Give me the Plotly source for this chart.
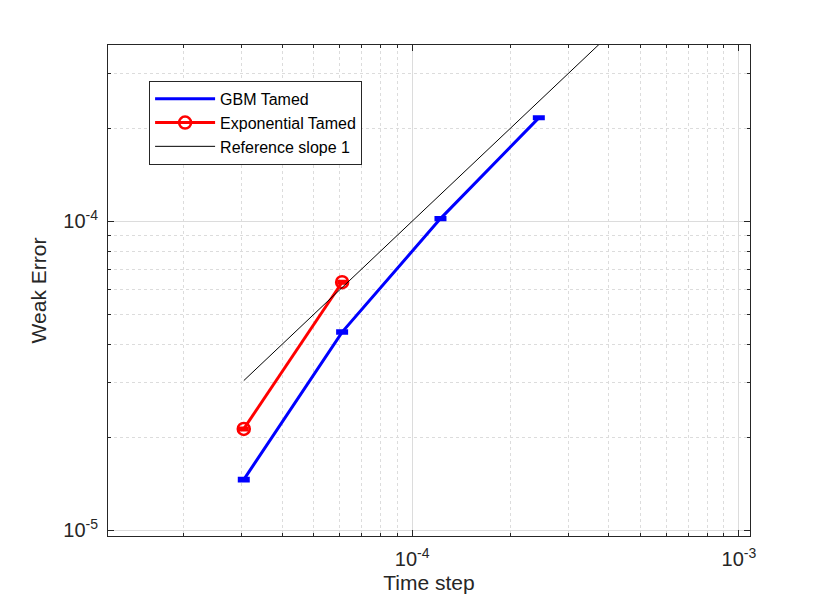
import plotly.graph_objects as go

# time steps 2^-15 .. 2^-12
dt = [3.0518e-5, 6.1035e-5, 1.2207e-4, 2.4414e-4]

gbm_err = [1.46e-5, 4.38e-5, 1.02e-4, 2.16e-4]
gbm_ci = [1.5e-7, 4.0e-7, 8.0e-7, 1.6e-6]

exp_dt = [3.0518e-5, 6.1035e-5]
exp_err = [2.13e-5, 6.35e-5]
exp_ci = [2.0e-7, 6.0e-7]

ref_dt = [3.0518e-5, 6.1035e-5, 1.2207e-4, 2.4414e-4, 4.8828e-4]

axis_col = '#262626'
grid_col = '#dcdcdc'
font = 'Liberation Sans, Arial, sans-serif'

# minor ticks at 2..9 of each decade
minor_vals = [m * 10.0 ** e for e in range(-6, -2) for m in range(2, 10)]

fig = go.Figure()
fig.add_trace(go.Scatter(
    x=dt, y=gbm_err, mode='lines', name='GBM Tamed',
    line=dict(color='#0000ff', width=3),
    error_y=dict(type='data', array=gbm_ci, color='#0000ff', thickness=3, width=6),
))
fig.add_trace(go.Scatter(
    x=exp_dt, y=exp_err, mode='lines+markers', name='Exponential Tamed',
    line=dict(color='#ff0000', width=3),
    marker=dict(symbol='circle-open', size=12, color='#ff0000', line=dict(width=2.5)),
    error_y=dict(type='data', array=exp_ci, color='#ff0000', thickness=2.5, width=5),
))
fig.add_trace(go.Scatter(
    x=ref_dt, y=ref_dt, mode='lines', name='Reference slope 1',
    line=dict(color='black', width=1),
))

common = dict(
    type='log',
    automargin=False,
    showline=True, linecolor=axis_col, linewidth=1, mirror='allticks',
    ticks='inside', ticklen=6, tickcolor=axis_col,
    showgrid=True, gridcolor=grid_col, gridwidth=1,
    zeroline=False,
    tickfont=dict(family=font, size=20, color=axis_col),
    ticklabelstandoff=5,
    minor=dict(tickvals=minor_vals, ticks='inside', ticklen=3, tickcolor=axis_col,
               showgrid=True, gridcolor=grid_col, griddash='dot', gridwidth=1),
)

fig.update_xaxes(
    **common,
    range=[-4.931, -2.966],
    tickvals=[1e-4, 1e-3],
    ticktext=['10<sup>-4</sup>', '10<sup>-3</sup>'],
    title=dict(text='Time step', font=dict(family=font, size=21, color=axis_col), standoff=15),
)
fig.update_yaxes(
    **common,
    range=[-5.018, -3.43],
    tickvals=[1e-5, 1e-4],
    ticktext=['10<sup>-5</sup>', '10<sup>-4</sup>'],
    title=dict(text='Weak Error', font=dict(family=font, size=21, color=axis_col), standoff=10),
)

fig.update_layout(
    width=814, height=586,
    margin=dict(l=100, r=72, t=37, b=58),
    paper_bgcolor='white', plot_bgcolor='white',
    showlegend=True,
    legend=dict(
        x=0.064, y=0.927, xanchor='left', yanchor='top',
        bgcolor='white', bordercolor=axis_col, borderwidth=1,
        font=dict(family=font, size=16, color='black'),
        tracegroupgap=0, itemwidth=60,
    ),
)

fig.write_html('out.html')
